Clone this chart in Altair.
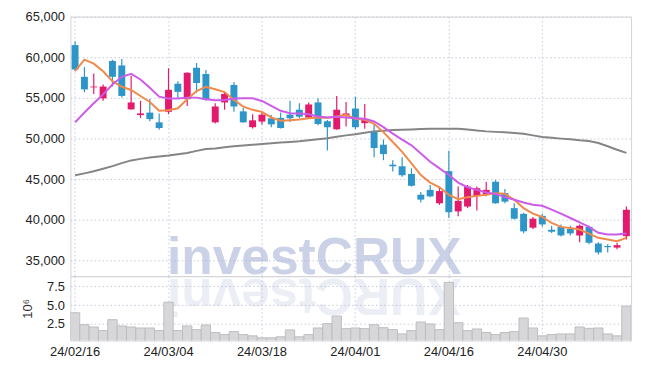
import altair as alt
import pandas as pd

dates = ["24/02/16", "24/02/19", "24/02/20", "24/02/21", "24/02/22", "24/02/23", "24/02/26", "24/02/27",
         "24/02/28", "24/02/29", "24/03/04", "24/03/05", "24/03/06", "24/03/07", "24/03/08", "24/03/11",
         "24/03/12", "24/03/13", "24/03/14", "24/03/15", "24/03/18", "24/03/19", "24/03/20", "24/03/21",
         "24/03/22", "24/03/25", "24/03/26", "24/03/27", "24/03/28", "24/03/29", "24/04/01", "24/04/02",
         "24/04/03", "24/04/04", "24/04/05", "24/04/08", "24/04/09", "24/04/11", "24/04/12", "24/04/15",
         "24/04/16", "24/04/17", "24/04/18", "24/04/19", "24/04/22", "24/04/23", "24/04/24", "24/04/25",
         "24/04/26", "24/04/29", "24/04/30", "24/05/02", "24/05/03", "24/05/07", "24/05/08", "24/05/09",
         "24/05/10", "24/05/13", "24/05/14", "24/05/16"]

opens = [61500, 57600, 56300, 54950, 59550, 59000, 53600, 52900, 53200, 52000,
         53300, 56750, 54850, 58700, 57950, 52000, 54450, 56600, 53350, 51400,
         52100, 52500, 52550, 52950, 53550, 52600, 54450, 52150, 51150, 52900,
         53700, 51900, 50950, 49250, 46800, 46600, 45650, 43100, 43700, 42050,
         46000, 41050, 41650, 42950, 43100, 44700, 43300, 41450, 40750, 39050,
         40500, 38800, 39150, 38900, 38100, 39150, 37100, 36800, 36600, 38000]
highs = [61950, 58800, 58000, 56650, 59700, 59800, 57700, 54650, 54900, 53100,
         58650, 57050, 58150, 59300, 58450, 54350, 55750, 56950, 53750, 53000,
         53300, 52900, 53200, 54650, 54350, 54450, 54950, 52300, 55250, 54500,
         55150, 54250, 51850, 49900, 47350, 47700, 46350, 43450, 44300, 44100,
         48500, 44100, 44300, 44100, 44700, 44900, 43800, 42050, 40900, 40350,
         40750, 39300, 39450, 39300, 39450, 39300, 37250, 37000, 37200, 41650]
lows = [58300, 55700, 55500, 54650, 56400, 55050, 53550, 52550, 52150, 51100,
        53000, 54900, 54000, 55650, 54650, 51850, 53550, 53300, 51950, 51250,
        51750, 51400, 51250, 52050, 52500, 52500, 51650, 48550, 51100, 51500,
        51150, 51200, 47700, 47350, 45950, 45300, 44100, 42150, 42800, 41850,
        40250, 40450, 41450, 41150, 42900, 42000, 42050, 40050, 38350, 38900,
        39150, 38400, 37950, 38100, 37250, 37000, 35750, 36000, 36400, 37600]
closes = [58500, 56050, 56400, 56400, 57600, 55250, 54450, 53100, 52400, 51300,
          56000, 55750, 58100, 56850, 54750, 53950, 55500, 53950, 52000, 52250,
          52950, 51750, 51300, 52500, 52700, 54200, 51800, 51400, 53550, 53100,
          51400, 52300, 48850, 48100, 46600, 45500, 44200, 42500, 42900, 43550,
          40950, 42350, 44100, 43900, 43700, 42050, 42250, 40150, 38600, 40150,
          39450, 38550, 38100, 38350, 39300, 37200, 36000, 36650, 36900, 41250]
volumes = [3.99, 2.41, 2.10, 1.62, 3.07, 2.24, 2.10, 1.97, 1.97, 1.62,
           5.39, 1.62, 2.24, 1.75, 2.37, 1.36, 1.09, 1.49, 1.09, 0.92,
           0.66, 0.66, 0.79, 1.71, 0.79, 1.09, 1.97, 2.54, 3.55, 1.88,
           1.97, 1.88, 2.41, 2.01, 1.75, 1.18, 1.62, 2.76, 2.50, 1.75,
           8.03, 2.67, 1.62, 1.84, 1.36, 1.09, 1.36, 1.49, 3.29, 1.97,
           0.92, 1.09, 1.18, 1.18, 2.10, 1.92, 1.97, 1.18, 0.92, 4.87]
ma_short = [58290, 59710, 59220, 58290, 57070, 56380, 55980, 55240, 54510, 53420,
            53490, 53730, 54830, 55850, 56380, 56070, 55730, 54760, 53940, 53540,
            53290, 52600, 52200, 52270, 52350, 52510, 52600, 52560, 52720, 52930,
            52450, 52320, 51830, 50800, 49590, 48370, 46950, 45520, 44590, 44020,
            43090, 42560, 42800, 42960, 43090, 43290, 43210, 42480, 41460, 40770,
            40370, 39630, 39150, 39020, 38820, 38330, 37800, 37600, 37390, 37800]
ma_mid = [51990, 53210, 54340, 55440, 56660, 57600, 57960, 57270, 56260, 55160,
          54920, 54920, 55040, 55040, 54830, 54730, 54760, 54920, 54950, 54950,
          54630, 54020, 53420, 53120, 53090, 53000, 52720, 52600, 52680, 52600,
          52510, 52440, 52110, 51420, 50610, 49880, 49180, 48170, 47150, 46340,
          45520, 44590, 44020, 43700, 43370, 43210, 42800, 42480, 42150, 41870,
          41740, 41260, 40770, 40240, 39710, 39150, 38420, 38210, 38210, 38330]
ma_long = [45490, 45730, 45980, 46290, 46620, 46990, 47320, 47510, 47680, 47800,
           47930, 48090, 48240, 48490, 48730, 48780, 48940, 49060, 49150, 49240,
           49340, 49430, 49510, 49590, 49670, 49790, 49920, 50040, 50220, 50400,
           50530, 50710, 50890, 50980, 51050, 51100, 51130, 51170, 51200, 51220,
           51220, 51200, 51130, 51010, 50890, 50830, 50770, 50680, 50590, 50400,
           50200, 50100, 50000, 49920, 49790, 49710, 49460, 49060, 48630, 48240]

x_labels = ["24/02/16", "24/03/04", "24/03/18", "24/04/01", "24/04/16", "24/04/30"]
price_ticks = [35000, 40000, 45000, 50000, 55000, 60000, 65000]
volume_ticks = [2.5, 5.0, 7.5]
watermark = "investCRUX"

df = pd.DataFrame({
    "date": dates, "open": opens, "high": highs, "low": lows, "close": closes,
    "volume": volumes, "ma_short": ma_short, "ma_mid": ma_mid, "ma_long": ma_long,
})
df["dir"] = ["up" if c >= o else "down" for o, c in zip(opens, closes)]

FONT = "Liberation Sans"
RED = "#e31a6c"
BLUE = "#2e95c9"
GRID = "#c6c9da"
DASH = [1.5, 2.5]
W = 566

xscale = alt.Scale(type="band", domain=dates, paddingInner=0, paddingOuter=0)
color = alt.Color("dir:N", scale=alt.Scale(domain=["up", "down"], range=[RED, BLUE]), legend=None)

x_top = alt.X("date:O", scale=xscale, sort=None,
              axis=alt.Axis(values=x_labels, labels=False, ticks=False, domain=False, grid=True,
                            title=None, bandPosition=0.5, gridDash=DASH, gridColor=GRID,
                            minExtent=0, maxExtent=0, labelPadding=0, offset=0))
x_bot = alt.X("date:O", scale=xscale, sort=None,
              axis=alt.Axis(values=x_labels, ticks=False, domain=False, grid=True, labelAngle=0,
                            title=None, bandPosition=0.5, gridDash=DASH, gridColor=GRID,
                            labelPadding=5))

pscale = alt.Scale(domain=[33090, 65000], nice=False, zero=False)
paxis = alt.Axis(values=price_ticks, format=",d", ticks=False, domain=False, grid=True,
                 gridDash=DASH, gridColor=GRID, title=None, labelPadding=6)

base = alt.Chart(df)

wm = alt.Chart(pd.DataFrame({"t": [watermark]})).mark_text(
    font=FONT, fontSize=52, fontWeight="bold", color="#a9b4d6", opacity=0.6,
    align="right", baseline="alphabetic"
).encode(text="t:N", x=alt.value(395), y=alt.value(260))

wicks = base.mark_rule(strokeWidth=1.2).encode(
    x=x_top, y=alt.Y("low:Q", scale=pscale, axis=paxis), y2="high:Q", color=color)
bodies = base.mark_bar(size=7).encode(
    x=x_top, y=alt.Y("open:Q", scale=pscale), y2="close:Q", color=color)
l_long = base.mark_line(color="#858585", strokeWidth=2).encode(x=x_top, y=alt.Y("ma_long:Q", scale=pscale))
l_short = base.mark_line(color="#f08a4b", strokeWidth=2).encode(x=x_top, y=alt.Y("ma_short:Q", scale=pscale))
l_mid = base.mark_line(color="#cc5ce8", strokeWidth=2).encode(x=x_top, y=alt.Y("ma_mid:Q", scale=pscale))

price = alt.layer(wm, wicks, bodies, l_long, l_short, l_mid).properties(width=W, height=262)

refl = alt.Chart(pd.DataFrame({"t": [watermark[::-1]]})).mark_text(
    font=FONT, fontSize=52, fontWeight="bold", color="#a9b4d6", opacity=0.22,
    align="left", baseline="alphabetic", angle=180
).encode(text="t:N", x=alt.value(395), y=alt.value(3))

vscale = alt.Scale(domain=[0.3, 8.86], nice=False, zero=False)
vbars = base.mark_bar(fill="#d7d7d9", stroke="#bdbdc0", strokeWidth=1, clip=True).encode(
    x=x_bot,
    y=alt.Y("volume:Q", scale=vscale,
            axis=alt.Axis(values=volume_ticks, format=".1f", ticks=False, domain=False, grid=True,
                          gridDash=DASH, gridColor=GRID, title="10⁶", titleFont=FONT,
                          titleFontWeight="normal", titleFontSize=13, titleColor="#333",
                          titlePadding=12, labelPadding=6)),
    y2=alt.Y2(datum=0))

volume = alt.layer(refl, vbars).properties(width=W, height=65)

chart = alt.vconcat(price, volume, spacing=0, bounds="flush").properties(
    padding={"left": 13, "top": 0, "right": 5, "bottom": 5}
).configure_view(stroke="#d3d3da").configure_axis(
    labelFont=FONT, labelFontSize=13, labelColor="#222"
)

chart.save("out.html", embed_options={"renderer": "svg", "actions": False})
